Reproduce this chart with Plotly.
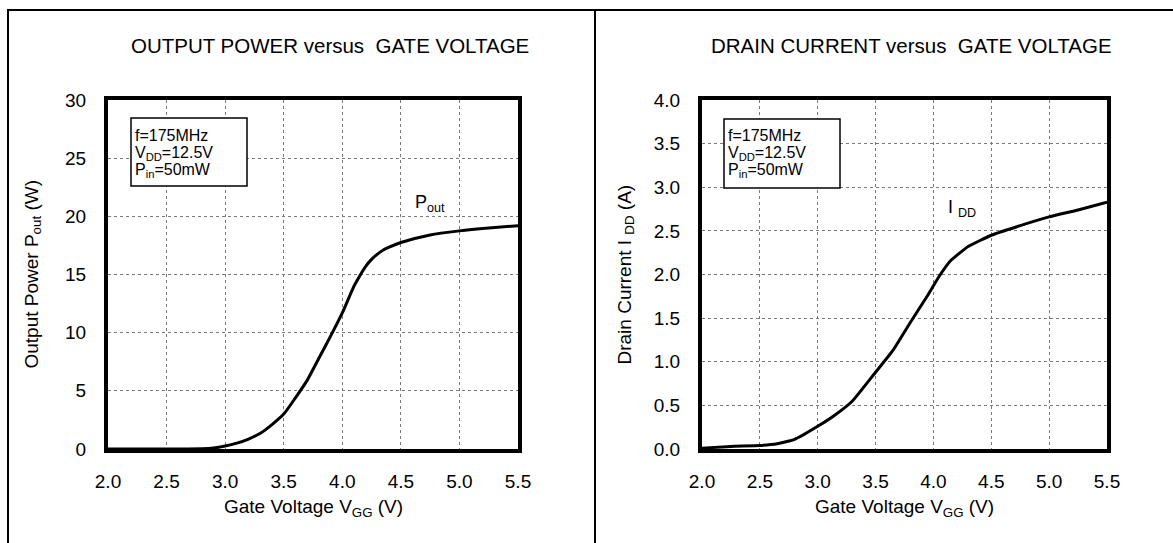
import plotly.graph_objects as go

W, H = 1173, 543

# ---- data ----
vgg_pout = [2.0, 2.5, 2.8, 2.9, 3.0, 3.1, 3.2, 3.3, 3.4, 3.5, 3.6, 3.7, 3.8, 3.9,
            4.0, 4.1, 4.15, 4.2, 4.25, 4.3, 4.35, 4.4, 4.5, 4.75, 5.0, 5.25, 5.5]
pout = [0, 0, 0.02, 0.08, 0.25, 0.5, 0.85, 1.35, 2.1, 3.0, 4.4, 5.9, 7.8, 9.7,
        11.7, 14.0, 14.9, 15.7, 16.3, 16.75, 17.1, 17.35, 17.75, 18.4, 18.75, 19.0, 19.2]

vgg_idd = [2.0, 2.25, 2.5, 2.65, 2.8, 3.0, 3.15, 3.3, 3.5, 3.65, 3.8, 3.95,
           4.05, 4.15, 4.3, 4.5, 4.75, 5.0, 5.25, 5.5]
idd = [0.01, 0.03, 0.04, 0.06, 0.11, 0.26, 0.39, 0.55, 0.88, 1.13, 1.45, 1.76,
       1.98, 2.16, 2.32, 2.45, 2.56, 2.66, 2.74, 2.83]

x_ticks = [2.0, 2.5, 3.0, 3.5, 4.0, 4.5, 5.0, 5.5]
x_tick_text = ["2.0", "2.5", "3.0", "3.5", "4.0", "4.5", "5.0", "5.5"]

titles = ["OUTPUT POWER versus  GATE VOLTAGE", "DRAIN CURRENT versus  GATE VOLTAGE"]
x_title = "Gate Voltage V<sub>GG</sub> (V)"
y_titles = ["Output Power P<sub>out</sub> (W)", "Drain Current I <sub>DD</sub> (A)"]
cond_lines = ["f=175MHz", "V<sub>DD</sub>=12.5V", "P<sub>in</sub>=50mW"]
curve_labels = ["P<sub>out</sub>", "I <sub>DD</sub>"]

FONT = "Arial, Liberation Sans, sans-serif"


def px(x):
    return x / W


def py(y):
    return 1 - y / H


fig = go.Figure()
fig.add_trace(go.Scatter(x=vgg_pout, y=pout, mode="lines", xaxis="x", yaxis="y",
                         line=dict(color="black", width=3, shape="spline", smoothing=0.6),
                         showlegend=False))
fig.add_trace(go.Scatter(x=vgg_idd, y=idd, mode="lines", xaxis="x2", yaxis="y2",
                         line=dict(color="black", width=3, shape="spline", smoothing=0.4),
                         showlegend=False))

common_x = dict(range=[2.0, 5.5], tickvals=x_ticks, ticktext=x_tick_text,
                showgrid=True, gridcolor="#7a7a7a", griddash="dot", gridwidth=1,
                showline=True, linecolor="black", linewidth=4, mirror=True,
                ticks="", ticklabelstandoff=12, zeroline=False, automargin=False,
                tickfont=dict(family=FONT, size=19, color="black"))
common_y = dict(showgrid=True, gridcolor="#7a7a7a", griddash="dot", gridwidth=1,
                showline=True, linecolor="black", linewidth=4, mirror=True,
                ticks="", ticklabelstandoff=14, zeroline=False, automargin=False,
                tickfont=dict(family=FONT, size=19, color="black"))

L1, R1 = 108, 518
L2, R2 = 702, 1107
T, B = 100, 449

fig.update_layout(
    template="none",
    width=W, height=H, margin=dict(l=0, r=0, t=0, b=0, pad=0, autoexpand=False),
    autosize=False,
    paper_bgcolor="white", plot_bgcolor="white",
    xaxis=dict(domain=[px(L1), px(R1)], anchor="y", **common_x),
    yaxis=dict(domain=[py(B), py(T)], anchor="x", range=[0, 30], dtick=5, **common_y),
    xaxis2=dict(domain=[px(L2), px(R2)], anchor="y2", **common_x),
    yaxis2=dict(domain=[py(B), py(T)], anchor="x2", range=[0, 4], dtick=0.5,
                tickformat=".1f", **common_y),
    font=dict(family=FONT, color="black"),
)

annotations = []
for cx, t in zip([330, 912], titles):
    annotations.append(dict(x=px(cx), y=py(45), xref="paper", yref="paper", text=t,
                            showarrow=False, xanchor="center", yanchor="middle",
                            font=dict(size=20.5, family=FONT)))
for cx in [(L1 + R1) / 2, (L2 + R2) / 2]:
    annotations.append(dict(x=px(cx), y=py(508), xref="paper", yref="paper", text=x_title,
                            showarrow=False, xanchor="center", yanchor="middle",
                            font=dict(size=19, family=FONT)))
for cx, t in zip([32, 625], y_titles):
    annotations.append(dict(x=px(cx), y=py((T + B) / 2), xref="paper", yref="paper", text=t,
                            showarrow=False, xanchor="center", yanchor="middle", textangle=-90,
                            font=dict(size=19, family=FONT)))
for bx in [133, 726]:
    for ly, t in zip([135, 153, 171], cond_lines):
        annotations.append(dict(x=px(bx), y=py(ly), xref="paper", yref="paper", text=t,
                                showarrow=False, xanchor="left", yanchor="middle",
                                font=dict(size=16, family=FONT)))
annotations.append(dict(x=px(413), y=py(203), xref="paper", yref="paper", text=curve_labels[0],
                        showarrow=False, xanchor="left", yanchor="middle",
                        font=dict(size=18, family=FONT)))
annotations.append(dict(x=px(946), y=py(208), xref="paper", yref="paper", text=curve_labels[1],
                        showarrow=False, xanchor="left", yanchor="middle",
                        font=dict(size=18, family=FONT)))
fig.update_layout(annotations=annotations)

shapes = [
    dict(type="line", xref="paper", yref="paper", x0=px(7), x1=1, y0=py(10), y1=py(10),
         line=dict(color="black", width=2)),
    dict(type="line", xref="paper", yref="paper", x0=px(8), x1=px(8), y0=py(10), y1=0,
         line=dict(color="black", width=2)),
    dict(type="line", xref="paper", yref="paper", x0=px(595), x1=px(595), y0=py(10), y1=0,
         line=dict(color="black", width=2)),
    dict(type="rect", xref="paper", yref="paper", x0=px(131), x1=px(247), y0=py(186), y1=py(118),
         line=dict(color="black", width=1.5), fillcolor="white", layer="above"),
    dict(type="rect", xref="paper", yref="paper", x0=px(724), x1=px(840), y0=py(188), y1=py(119),
         line=dict(color="black", width=1.5), fillcolor="white", layer="above"),
]
fig.update_layout(shapes=shapes)

fig.write_html("out.html")
